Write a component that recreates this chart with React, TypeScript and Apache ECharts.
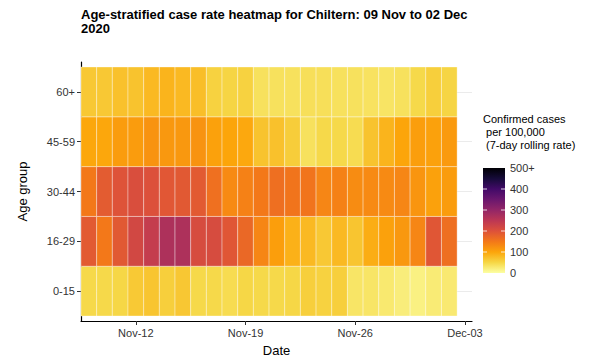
import React, { useEffect, useRef } from "react";
import * as echarts from "echarts";

const ageGroups = ["0-15", "16-29", "30-44", "45-59", "60+"];
const dates = [
  "2020-11-09", "2020-11-10", "2020-11-11", "2020-11-12", "2020-11-13", "2020-11-14",
  "2020-11-15", "2020-11-16", "2020-11-17", "2020-11-18", "2020-11-19", "2020-11-20",
  "2020-11-21", "2020-11-22", "2020-11-23", "2020-11-24", "2020-11-25", "2020-11-26",
  "2020-11-27", "2020-11-28", "2020-11-29", "2020-11-30", "2020-12-01", "2020-12-02",
];
const rate0to15 = [48, 48, 50, 64, 68, 58, 66, 48, 48, 44, 50, 48, 48, 50, 58, 55, 58, 33, 33, 28, 22, 18, 25, 27];
const rate16to29 = [188, 150, 190, 218, 238, 268, 268, 210, 210, 193, 170, 135, 108, 88, 80, 65, 80, 68, 92, 105, 115, 135, 193, 162];
const rate30to44 = [150, 186, 198, 206, 202, 192, 190, 188, 160, 130, 140, 150, 162, 155, 155, 135, 140, 128, 130, 130, 135, 118, 105, 110];
const rate45to59 = [98, 98, 110, 110, 120, 115, 115, 120, 105, 100, 97, 70, 72, 60, 38, 48, 48, 44, 70, 85, 100, 108, 105, 112];
const rate60plus = [65, 65, 72, 70, 80, 85, 80, 75, 55, 52, 55, 38, 38, 38, 40, 40, 38, 38, 36, 34, 38, 48, 58, 52];
const ratesByGroup = [rate0to15, rate16to29, rate30to44, rate45to59, rate60plus];

const xTickIndices = [3, 10, 17, 24];
const xTickLabels = ["Nov-12", "Nov-19", "Nov-26", "Dec-03"];
const legendBreaks = [0, 100, 200, 300, 400, 500];
const legendLabels = ["0", "100", "200", "300", "400", "500+"];

// reversed inferno, low -> high
const palette = [
  "#FCFFA4", "#F6D746", "#FCA50A", "#F37819", "#DD513A", "#BC3754",
  "#932667", "#6A176E", "#420A68", "#160B39", "#000004",
];

const FONT = "'Liberation Sans', Arial, sans-serif";

export default function App() {
  const ref = useRef<HTMLDivElement>(null);
  useEffect(() => {
    if (!ref.current) return;
    const chart = echarts.init(ref.current, null, { renderer: "svg" });
    const data: number[][] = [];
    ratesByGroup.forEach((arr, g) => {
      arr.forEach((v, i) => {
        data.push([i, g + 1, v]);
      });
    });

    // legend geometry
    const barX = 483, barTop = 168, barH = 105, barW = 22;
    const yOf = (v: number) => barTop + barH - (v / 500) * barH;
    const stops = palette.map((c, k) => ({ offset: 1 - k / (palette.length - 1), color: c })).reverse();
    const legendEls: any[] = [
      {
        type: "text",
        left: barX,
        top: 112,
        style: {
          text: "Confirmed cases\n per 100,000\n (7-day rolling rate)",
          font: `11px ${FONT}`,
          lineHeight: 13,
          fill: "#000",
        },
      },
      {
        type: "rect",
        shape: { x: barX, y: barTop, width: barW, height: barH },
        style: { fill: new echarts.graphic.LinearGradient(0, 0, 0, 1, stops) },
      },
    ];
    legendBreaks.forEach((b, k) => {
      const y = yOf(b);
      if (b > 0 && b < 500) {
        legendEls.push({
          type: "line",
          shape: { x1: barX, y1: y, x2: barX + 4, y2: y },
          style: { stroke: "rgba(255,255,255,0.8)", lineWidth: 1 },
        });
        legendEls.push({
          type: "line",
          shape: { x1: barX + barW - 4, y1: y, x2: barX + barW, y2: y },
          style: { stroke: "rgba(255,255,255,0.8)", lineWidth: 1 },
        });
      }
      legendEls.push({
        type: "text",
        x: barX + barW + 5,
        y: y,
        style: {
          text: legendLabels[k],
          font: `11px ${FONT}`,
          fill: "#333",
          verticalAlign: "middle",
        },
      });
    });

    chart.setOption({
      animation: false,
      backgroundColor: "#fff",
      title: {
        text: "Age-stratified case rate heatmap for Chiltern: 09 Nov to 02 Dec\n2020",
        left: 81,
        top: 7,
        padding: 0,
        textStyle: {
          fontFamily: FONT,
          fontSize: 13,
          fontWeight: "bold",
          lineHeight: 14,
          color: "#000",
        },
      },
      grid: { left: 81, right: 117, top: 62, bottom: 39 },
      xAxis: {
        type: "value",
        min: -0.5,
        max: 24.45,
        name: "Date",
        nameLocation: "middle",
        nameGap: 23,
        nameTextStyle: { fontFamily: FONT, fontSize: 13, color: "#000" },
        axisLine: { show: true, onZero: false, lineStyle: { color: "#000", width: 1.2 } },
        axisTick: { show: true, length: 4, customValues: xTickIndices, lineStyle: { color: "#333" } },
        axisLabel: {
          customValues: xTickIndices,
          margin: 6,
          fontFamily: FONT,
          fontSize: 11,
          color: "#333",
          formatter: (v: number) => xTickLabels[xTickIndices.indexOf(Math.round(v))] ?? "",
        },
        splitLine: { show: false },
      },
      yAxis: {
        type: "value",
        min: 0.4,
        max: 5.6,
        name: "Age group",
        nameLocation: "middle",
        nameGap: 52,
        nameRotate: 90,
        nameTextStyle: { fontFamily: FONT, fontSize: 13, color: "#000" },
        axisLine: { show: true, onZero: false, lineStyle: { color: "#000", width: 1.2 } },
        axisTick: { show: true, length: 4, customValues: [1, 2, 3, 4, 5], lineStyle: { color: "#333" } },
        axisLabel: {
          customValues: [1, 2, 3, 4, 5],
          margin: 6,
          fontFamily: FONT,
          fontSize: 11,
          color: "#333",
          formatter: (v: number) => ageGroups[Math.round(v) - 1] ?? "",
        },
        splitLine: { show: true, lineStyle: { color: "#ebebeb", width: 1 } },
      },
      visualMap: {
        show: false,
        type: "continuous",
        min: 0,
        max: 500,
        dimension: 2,
        seriesIndex: 0,
        inRange: { color: palette },
      },
      series: [
        {
          type: "custom",
          encode: { x: 0, y: 1 },
          data,
          renderItem: (params: any, api: any) => {
            const xi = api.value(0);
            const yi = api.value(1);
            const tl = api.coord([xi - 0.5, yi + 0.5]);
            const br = api.coord([xi + 0.5, yi - 0.5]);
            return {
              type: "rect",
              shape: { x: tl[0], y: tl[1], width: br[0] - tl[0], height: br[1] - tl[1] },
              style: { fill: api.visual("color"), stroke: "rgba(255,255,255,0.35)", lineWidth: 1 },
            };
          },
        },
      ],
      graphic: legendEls,
    });
    return () => chart.dispose();
  }, []);
  return (
    <div
      ref={ref}
      style={{ position: "fixed", left: 0, top: 0, width: 589, height: 362, background: "#fff" }}
    />
  );
}
